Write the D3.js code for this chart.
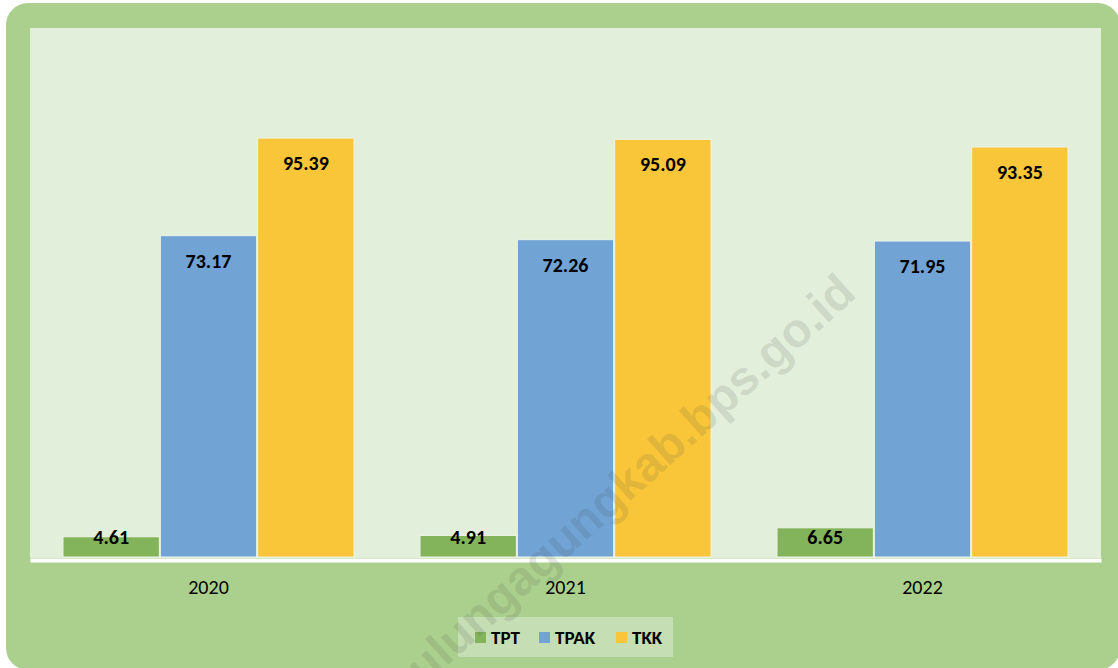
<!DOCTYPE html>
<html>
<head>
<meta charset="utf-8">
<script src="https://cdn.jsdelivr.net/npm/d3@7"></script>
<style>
  body { margin: 0; background: #ffffff; }
  text { font-family: Carlito, Calibri, "Liberation Sans", Arial, sans-serif; }
</style>
</head>
<body>
<div id="chart"></div>
<script>
// data
var years = ["2020", "2021", "2022"];
var seriesNames = ["TPT", "TPAK", "TKK"];
var tpt  = [4.61, 4.91, 6.65];
var tpak = [73.17, 72.26, 71.95];
var tkk  = [95.39, 95.09, 93.35];
var seriesColors = ["#83b35a", "#71a4d5", "#f9c63a"];

var W = 1118, H = 668;
var plot = {left: 30, right: 1101, top: 28, bottom: 557};

var svg = d3.select("#chart")
  .append("svg")
    .attr("width", W)
    .attr("height", H);

// outer rounded frame
svg.append("rect")
  .attr("x", 6).attr("y", 3)
  .attr("width", 1114).attr("height", 667)
  .attr("rx", 22).attr("ry", 22)
  .attr("fill", "#abd08e");

// plot area
svg.append("rect")
  .attr("x", plot.left).attr("y", plot.top)
  .attr("width", plot.right - plot.left)
  .attr("height", plot.bottom - plot.top + 1)
  .attr("fill", "#e2efda");

var x0 = d3.scaleBand()
  .domain(years)
  .range([plot.left, plot.right])
  .paddingInner(0.182)
  .paddingOuter(0.091);

var x1 = d3.scaleBand()
  .domain(seriesNames)
  .range([0, x0.bandwidth()]);

var y = d3.scaleLinear()
  .domain([0, 120])
  .range([plot.bottom, 30]);

var color = d3.scaleOrdinal()
  .domain(seriesNames)
  .range(seriesColors);

// build rows from the arrays
var rows = years.map(function(yr, i) {
  return {year: yr, values: [
    {key: "TPT", value: tpt[i]},
    {key: "TPAK", value: tpak[i]},
    {key: "TKK", value: tkk[i]}
  ]};
});

var groups = svg.selectAll("g.year")
  .data(rows)
  .enter()
  .append("g")
    .attr("class", "year")
    .attr("transform", function(d) { return "translate(" + x0(d.year) + ",0)"; });

groups.selectAll("rect")
  .data(function(d) { return d.values; })
  .enter()
  .append("rect")
    .attr("x", function(d) { return x1(d.key) + 0.5; })
    .attr("y", function(d) { return y(d.value); })
    .attr("width", x1.bandwidth() - 1)
    .attr("height", function(d) { return y(0) - y(d.value); })
    .attr("fill", function(d) { return color(d.key); })
    .attr("stroke", "#eef4e8")
    .attr("stroke-width", 1);

// value labels: inside end, pushed up when the bar is short
groups.selectAll("text.val")
  .data(function(d) { return d.values; })
  .enter()
  .append("text")
    .attr("class", "val")
    .attr("x", function(d) { return x1(d.key) + x1.bandwidth() / 2; })
    .attr("y", function(d) { return Math.min(y(d.value) + 25, y(0) - 20); })
    .attr("dy", "0.35em")
    .attr("text-anchor", "middle")
    .style("font-size", "20px")
    .style("font-weight", "bold")
    .attr("fill", "#000")
    .text(function(d) { return d.value.toFixed(2); });

// x axis
var xAxis = svg.append("g")
  .attr("transform", "translate(0," + (plot.bottom + 3) + ")")
  .call(d3.axisBottom(x0).tickSize(0).tickPadding(20));
xAxis.select(".domain")
  .attr("stroke", "#ffffff")
  .attr("stroke-width", 4);
xAxis.selectAll("text")
  .style("font-size", "20px")
  .attr("fill", "#000");

// legend
var legend = svg.append("g");
legend.append("rect")
  .attr("x", 458).attr("y", 617)
  .attr("width", 215).attr("height", 40)
  .attr("fill", "#c5deb3");

var legendX = [475, 539, 616];
var item = legend.selectAll("g.item")
  .data(seriesNames)
  .enter()
  .append("g")
    .attr("class", "item")
    .attr("transform", function(d, i) { return "translate(" + legendX[i] + ",637)"; });
item.append("rect")
  .attr("x", 0).attr("y", -5)
  .attr("width", 11).attr("height", 11)
  .attr("fill", function(d) { return color(d); });
item.append("text")
  .attr("x", 16)
  .attr("dy", "0.35em")
  .style("font-size", "19px")
  .style("font-weight", "bold")
  .attr("fill", "#000")
  .text(function(d) { return d; });

// watermark
svg.append("text")
  .attr("transform", "translate(858,296) rotate(-42)")
  .attr("text-anchor", "end")
  .style("font-family", "'Liberation Sans', Arial, sans-serif")
  .style("font-size", "48px")
  .style("font-weight", "bold")
  .attr("fill", "rgba(60,60,60,0.14)")
  .text("tulungagungkab.bps.go.id");
</script>
</body>
</html>
